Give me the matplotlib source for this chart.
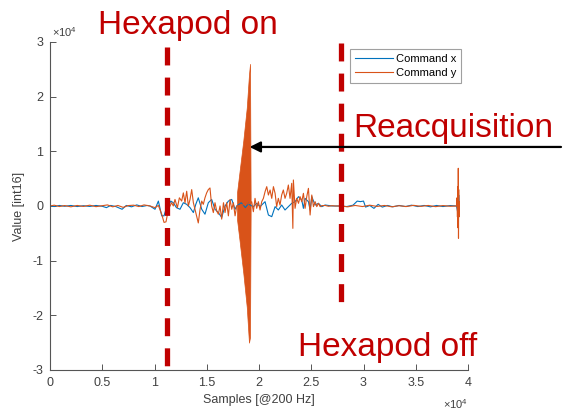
import numpy as np
import matplotlib
matplotlib.use("Agg")
import matplotlib.pyplot as plt

plt.rcParams['font.family'] = ['Liberation Sans', 'DejaVu Sans']
plt.rcParams['axes.unicode_minus'] = False
plt.rcParams['mathtext.fontset'] = 'custom'
plt.rcParams['mathtext.rm'] = 'Liberation Sans'

#Command y (orange) samples
cmd_y_x = [0, 400, 900, 1400, 2000, 2600, 3200, 3800, 4400, 5000, 5500, 6000, 6500, 7000, 7500, 8000, 8500, 9000, 9570,
           10050, 10370, 10690, 10910, 11100, 11330, 11640, 11800, 11960, 12190, 12380, 12600, 12760, 12920, 13080,
           13240, 13400, 13560, 13720, 13870, 14030, 14190, 14360, 14520, 14670, 14830, 14990, 15150, 15310, 15470,
           15630, 15790, 15950, 16110, 16270, 16430, 16600, 16750, 16910, 17070, 17230, 17390, 17550, 17710, 17870,
           19200, 19300, 19460, 19620, 19780, 19940, 20100, 20260, 20420, 20580, 20740, 20900, 21060, 21220, 21380,
           21540, 21690, 21850, 22010, 22170, 22330, 22490, 22650, 22810, 22970, 23130, 23240, 23290, 23450, 23610,
           23780, 23930, 24090, 24250, 24410, 24570, 24730, 24890, 25050, 25210, 25370, 25530, 25690, 25850, 26010,
           26330, 26650, 27000, 27290, 27800, 28500, 29200, 29900, 30600, 31300, 32000, 32700, 33400, 34100, 34800,
           35500, 36200, 36900, 37600, 38300, 38900, 38950, 38990, 39020, 39050, 39070, 39090, 39110, 39130, 39150, 39170]
cmd_y = [0, 150, -100, 80, -150, 100, -80, 150, -120, 60, 200, -150, 100, -250, 80, 150, -100, 200, 0,
         -300, 100, -1500, -3000, -2900, -600, 600, 0, 1200, -300, 1500, 900, 2400, 600, 2700,
         0, 1200, 3000, 600, -600, -1800, -3100, -600, 900, 300, 1500, 2400, 3000, 3300, 0,
         -1200, 600, -900, -1500, 0, -2400, 600, -1200, 600, -1800, 1200, -600, 600, -1800, 0,
         500, 790, -1040, 1400, -430, 790, -730, 790, 1400, 2620, 3540, 2010, 2930, 1400, 3540,
         2320, -120, 1400, 180, 2010, 2930, 1400, 2320, 3840, 1400, 4150, -4090, 4760, -430, 1400,
         490, 1710, 790, 2320, -430, 1710, 3230, -1650, 2010, -120, 790, -120, 490, -120, 60,
         100, -50, 60, 0, 0, -150, 100, -100, 150, -80, 100, -150, 50, -100, 120,
         -60, 100, -120, 80, -50, 0, 1500, -2000, 3500, -4000, 6900, -5900, 3000, -2000, 800, -300]

#Command x (blue)
cmd_x_x = [0, 400, 900, 1400, 2000, 2600, 3200, 3800, 4400, 5000, 5400, 5800, 6300, 6900, 7300, 7800, 8300, 8800, 9300, 9570,
           10050, 10370, 10690, 10910, 11100, 11330, 11560, 11800, 12100, 12440, 12760, 13080, 13400, 13720, 13950,
           14190, 14520, 14830, 15150, 15470, 15790, 16110, 16430, 16750, 17070, 17390, 17710, 17870,
           18300, 18700, 19000, 19140, 19460, 19780, 20100, 20420, 20580, 20900, 21220, 21540, 21850, 22170, 22490,
           22810, 23130, 23450, 23780, 24090, 24250, 24410, 24730, 24890, 25050, 25370, 25690, 26010, 26330, 27000,
           27800, 28400, 29000, 29400, 29700, 30000, 30200, 30600, 31000, 31400, 31800, 32300, 32800, 33400, 34000,
           34600, 35200, 35800, 36400, 37000, 37600, 38300, 38900, 39000, 39040, 39080, 39110, 39150, 39170]
cmd_x = [0, -100, 100, -50, 100, -100, 50, -80, 100, -50, -300, 100, -100, -600, 100, -150, 200, -100, 100, 0,
         -600, 900, -1800, -1800, -600, 0, 900, 600, -300, -600, 600, 300, -300, -1200, 300,
         1500, -600, -1500, 600, 1200, -600, -1200, -2100, 0, 900, 1200, -600, 0,
         600, -300, 500, 180, -120, 490, -120, 490, 790, -1650, -1950, -120, -730, 180, -730,
         -120, 490, 790, 1710, 1100, -430, 1400, 790, -730, 1710, 180, 490, -120, 180, 0,
         0, -100, 150, 900, 800, 900, -200, 100, -430, 300, -200, 100, -150, 100, -100,
         150, -100, 100, -150, 100, -100, 80, 0, -1000, 1500, -2500, 2000, -500, 0]

#Envelope of the reacquisition burst on Command y
burst_x = [17900, 18120, 18500, 18830, 19040, 19140, 19200]
burst_hi = [2500, 6000, 12000, 18000, 24000, 26000, 800]
burst_lo = [-2500, -6000, -12300, -18500, -25000, -24000, -800]

#Events
hexapod_on = 11200
hexapod_off = 27800
reacq_y = 10800

xticks = [0, 5000, 10000, 15000, 20000, 25000, 30000, 35000, 40000]
xticklabels = ["0", "0.5", "1", "1.5", "2", "2.5", "3", "3.5", "4"]
yticks = [-30000, -20000, -10000, 0, 10000, 20000, 30000]
yticklabels = ["-3", "-2", "-1", "0", "1", "2", "3"]

blue = "#0072BD"
orange = "#D95319"
red = "#C00000"
grey = "#555555"

fig = plt.figure(figsize=(5.71, 4.13), dpi=100)
ax = fig.add_axes([50/571, 1-370/413, 418/571, 328/413])

ax.plot(cmd_x_x, cmd_x, color=blue, lw=0.8, label="Command x")
ax.plot(cmd_y_x, cmd_y, color=orange, lw=0.8, label="Command y")
ax.fill_between(burst_x, burst_lo, burst_hi, color=orange, lw=0.5)

ax.set_xlim(0, 40000)
ax.set_ylim(-30000, 30000)
ax.set_xticks(xticks)
ax.set_xticklabels(xticklabels)
ax.set_yticks(yticks)
ax.set_yticklabels(yticklabels)
ax.tick_params(direction='in', length=4, width=0.7, colors=grey, labelsize=9, labelcolor="#404040", pad=5)
for s in ["top", "right"]:
    ax.spines[s].set_visible(False)
for s in ["left", "bottom"]:
    ax.spines[s].set_color(grey)
    ax.spines[s].set_linewidth(0.8)
ax.set_xlabel("Samples [@200 Hz]", fontsize=9, color="#404040", labelpad=4)
ax.set_ylabel("Value [int16]", fontsize=9, color="#404040", labelpad=5)

fig.text(52/571, 1-37/413, r"$\times10^{4}$", fontsize=8, color="#404040", va="baseline", ha="left")
fig.text(468/571, 1-409/413, r"$\times10^{4}$", fontsize=8, color="#404040", va="baseline", ha="right")

leg = ax.legend(loc="upper right", fontsize=8, frameon=True, fancybox=False, handlelength=3.4,
                borderaxespad=0.6, handletextpad=0.3, borderpad=0.45, labelspacing=0.35)
leg.get_frame().set_edgecolor("#888888")
leg.get_frame().set_linewidth(0.8)
leg.set_zorder(5)

#Event markers drawn over the axes edges
ax.plot([hexapod_on, hexapod_on], [29100, -31100], color=red, lw=3.8, ls=(0, (3.4, 2.3)), clip_on=False, zorder=6)
ax.plot([hexapod_off, hexapod_off], [29800, -19600], color=red, lw=3.8, ls=(0, (3.4, 2.3)), clip_on=False, zorder=6)

ax.annotate("", xy=(19100, reacq_y), xytext=(48900, reacq_y), annotation_clip=False,
            arrowprops=dict(arrowstyle='-|>', color='k', lw=1.6, mutation_scale=16, shrinkA=0, shrinkB=0), zorder=7)

fig.text(98/571, 1-34/413, "Hexapod on", fontsize=24, color=red, va="baseline", ha="left")
fig.text(353/571, 1-137/413, "Reacquisition", fontsize=24, color=red, va="baseline", ha="left")
fig.text(298/571, 1-356/413, "Hexapod off", fontsize=24, color=red, va="baseline", ha="left")

fig.savefig("out.png", dpi=100)
